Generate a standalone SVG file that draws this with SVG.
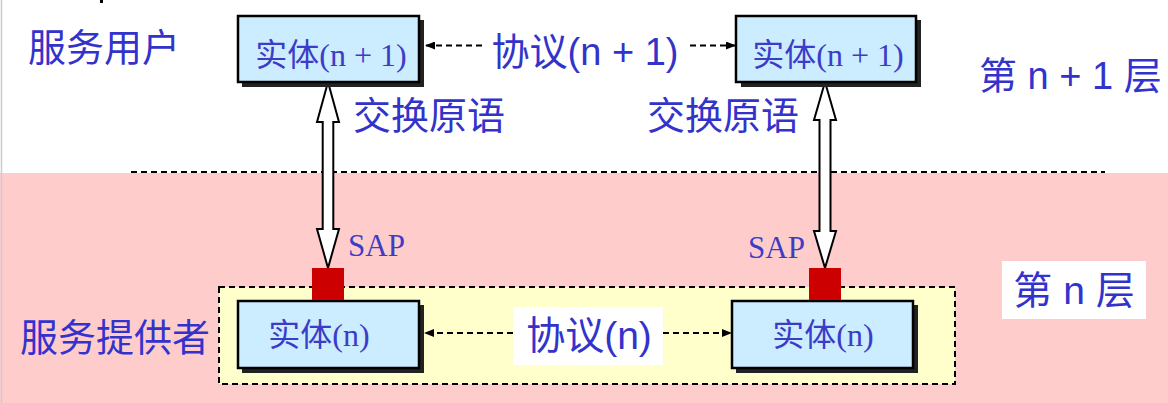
<svg xmlns="http://www.w3.org/2000/svg" width="1168" height="403" viewBox="0 0 1168 403">
<defs>
<marker id="ah" markerWidth="10" markerHeight="8" refX="10" refY="4" orient="auto" markerUnits="userSpaceOnUse">
<path d="M0,0 L10,4 L0,8 Z" fill="#000"/>
</marker>
<style>
.cjk{font-family:"Liberation Sans","Noto Sans CJK SC",sans-serif;fill:#3333CC;}
.ent{font-family:"Liberation Serif","Noto Sans CJK SC",serif;fill:#3C3CC8;}
.box{fill:#CCECFF;stroke:#000;stroke-width:2.5;}
.shadow{fill:#222;}
.dash{stroke:#000;stroke-width:2;stroke-dasharray:6 4;fill:none;}
.dbl{fill:#fff;stroke:#000;stroke-width:2;stroke-linejoin:miter;}
.sap{fill:#CC0000;}
</style>
</defs>
<rect x="0" y="0" width="1168" height="403" fill="#fff"/>
<rect x="0" y="173" width="1168" height="230" fill="#FFCCCC"/>
<line x1="1.5" y1="0" x2="1.5" y2="403" stroke="#ccc" stroke-width="1.5"/>
<rect x="100" y="0" width="3" height="3" fill="#000"/>
<line class="dash" x1="131" y1="172" x2="1105" y2="172"/>
<rect id="provider-region" x="219" y="287" width="736" height="97" fill="#FFFFCC" stroke="#000" stroke-width="2" stroke-dasharray="6 4"/>

<text class="cjk" x="28" y="61" font-size="38">服务用户</text>
<text class="cjk" x="20" y="351" font-size="38">服务提供者</text>
<text class="cjk" x="979" y="89" font-size="38">第 n + 1 层</text>
<g id="layer-n-label">
<rect x="1002" y="261" width="144" height="58" fill="#fff"/>
<text class="cjk" x="1074" y="304" font-size="39" text-anchor="middle">第 n 层</text>
</g>

<g id="connectors">
<line class="dash" x1="482" y1="45.5" x2="425" y2="45.5" marker-end="url(#ah)"/>
<line class="dash" x1="690" y1="45.5" x2="736" y2="45.5" marker-end="url(#ah)"/>
<text class="cjk" x="585" y="65" font-size="38" text-anchor="middle">协议(n + 1)</text>
<line class="dash" x1="513" y1="333" x2="424" y2="333" marker-end="url(#ah)"/>
<line class="dash" x1="663" y1="333" x2="732" y2="333" marker-end="url(#ah)"/>
<rect x="513" y="307" width="150" height="58" fill="#fff"/>
<text class="cjk" x="589" y="349" font-size="39" text-anchor="middle">协议(n)</text>
<polygon class="dbl" points="328,82 339,122 333.3,122 333.3,229 339,229 328,268 317,229 322.7,229 322.7,122 317,122"/>
<polygon class="dbl" points="825,82 836,120 830.5,120 830.5,231 836,231 825,268 814,231 819.5,231 819.5,120 814,120"/>
<text class="cjk" x="353" y="129" font-size="38">交换原语</text>
<text class="cjk" x="647" y="129" font-size="38">交换原语</text>
<text class="ent" x="348" y="256" font-size="31">SAP</text>
<text class="ent" x="748" y="258" font-size="31">SAP</text>
</g>

<g id="entity-n1-left">
<rect class="shadow" x="242" y="20" width="182" height="67"/>
<rect class="box" x="238" y="16" width="181" height="66"/>
<text class="ent" x="331" y="66" font-size="32" text-anchor="middle">实体(n + 1)</text>
</g>
<g id="entity-n1-right">
<rect class="shadow" x="741" y="20" width="180" height="67"/>
<rect class="box" x="736" y="16" width="180" height="66"/>
<text class="ent" x="828" y="66" font-size="32" text-anchor="middle">实体(n + 1)</text>
</g>
<g id="entity-n-left">
<rect class="shadow" x="242" y="305" width="182" height="68"/>
<rect class="box" x="238" y="301" width="181" height="67"/>
<text class="ent" x="319" y="346" font-size="32" text-anchor="middle">实体(n)</text>
</g>
<g id="entity-n-right">
<rect class="shadow" x="736" y="305" width="182" height="68"/>
<rect class="box" x="732" y="301" width="181" height="67"/>
<text class="ent" x="823" y="346" font-size="32" text-anchor="middle">实体(n)</text>
</g>
<g id="sap-left"><rect class="sap" x="312" y="268" width="32" height="32"/></g>
<g id="sap-right"><rect class="sap" x="809" y="268" width="32" height="32"/></g>
</svg>
